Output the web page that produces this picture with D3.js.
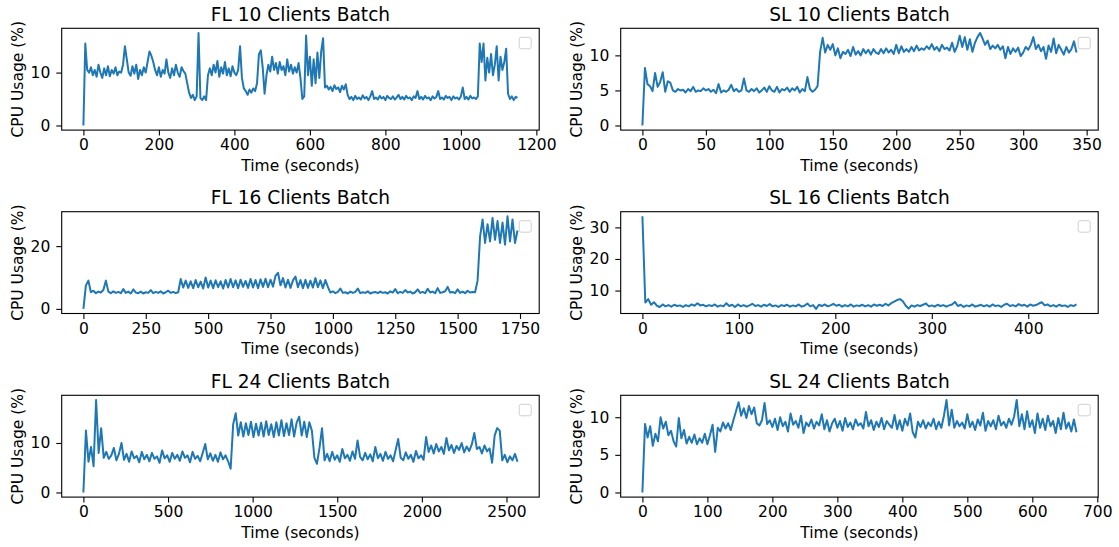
<!DOCTYPE html>
<html>
<head>
<meta charset="utf-8">
<script src="https://cdn.jsdelivr.net/npm/d3@7"></script>
<style>
body { margin: 0; background: #fff; }
text { font-family: "DejaVu Sans", sans-serif; }
</style>
</head>
<body>
<div id="chart"></div>
<script>
// CPU usage (%) per run, one value every `step` seconds

var fl10Step = 5;
var fl10Cpu = [0,15.5,10.5,10,11,9.5,10.5,9.2,11.5,10,9,10.8,9.5,11.2,9.3,10.5,9.8,11,9.5,10.2,
    10,11.5,15,12.5,10,9.4,11.2,9.8,11.5,8.8,10.5,9.5,11,10,12,14,13.2,12,10.5,9.5,
    11,9.2,10.5,9.8,12.5,10,9,10.8,9.5,11.5,10,9.2,11,10.3,9.8,8,6.2,5.2,5.8,4.8,
    5.5,17.5,5.2,4.8,5.5,4.8,9.5,10.8,9.5,11.5,10,12.2,9.2,11,9.8,12,9.5,10.8,9.3,11.2,
    10,9.5,10.5,15,9,7,6.5,5.8,6.8,6.2,7,6.5,8,13.5,14.2,11,6,9.5,11.5,10.2,
    13,10.5,11.8,9.8,12,10.5,11.2,9.5,12.5,10.2,11.5,9.8,11,10,11.8,9,5,5.5,17,9.5,
    13,7.5,12.5,8,13.8,9,14,16.5,7.2,7.5,6.8,7.3,6.5,7.6,6.9,7.2,6.3,7.5,6.8,7.8,
    5.8,5,5.4,4.8,5.6,5,5.3,4.9,5.7,5.1,5.4,4.8,5.5,6.5,5,5.3,4.9,5.6,5.1,5.4,
    4.8,5.6,5.2,5,5.5,4.9,5.3,5.8,5,5.4,4.9,5.6,5.1,5.3,4.8,5.5,5.2,6.5,5,5.4,
    4.9,5.6,5.1,5.3,4.8,5.5,5.1,5.4,6.5,5,5.3,4.9,5.6,5.2,5.4,4.8,5.5,5.1,5.3,4.9,
    5.5,7.2,5,5.4,4.9,5.6,5.1,5.3,5,5.5,15.5,12,15.5,8.5,12.8,10,13.5,9.5,11.5,15,
    8.5,13,10.5,12,14.5,6,5,5.5,4.8,5.4,5.2];

var sl10Step = 2;
var sl10Cpu = [0,8.2,5.9,5.6,4.9,7.5,5.5,6.2,7.6,4.8,6.3,6.1,5,4.8,5.2,5,5.1,4.7,5.2,4.9,
    5.5,4.8,5,4.9,5.3,5,5.2,4.8,5.1,4.6,5.9,4.7,5,4.8,5.1,5.8,4.9,5.2,4.8,5,
    6.7,5,4.8,5.2,4.9,5.3,4.7,5,5.4,4.8,5.6,5,4.8,5.5,4.7,5.2,5,5.4,4.8,5.3,
    5,5.5,4.7,5.2,4.9,6.9,5.2,4.8,5.1,5.6,10.5,12.5,10.4,11.5,10.8,11.6,10,11,9.6,10.5,
    10.2,10.8,9.9,11.2,10.1,10.6,10,10.9,10.3,10.8,10.1,10.9,10.4,10.2,10.9,10.3,11,10.4,10.8,10.2,
    11.5,10.3,11.3,10.5,10.9,10.5,11.2,10.6,11.4,10.7,11,10.8,11.3,10.9,11.6,10.8,11.2,10.6,11.5,10.9,
    11.1,10.7,11.8,10.5,11.3,12.8,11.2,12.6,10.8,12.3,10.5,11.8,12.6,13.2,12.4,11.5,12.1,10.9,11.4,11,
    11.5,10.8,11.3,9.6,11.2,10.2,11,10.5,11.1,9.9,10.4,11.2,10.8,11.5,12.6,10.9,11.5,10.6,11.2,9.5,
    11.4,10.5,12.4,10.3,11.5,10.8,10.1,11.2,10.4,10.9,12,10.4];

var fl16Step = 10;
var fl16Cpu = [0,7.5,9,5.3,5.8,5,5.5,5.2,6,9,5.5,5,5.6,5.1,5.4,5,6.3,5.1,5.5,4.9,
    6.2,5.2,5,5.5,4.9,5.3,5.1,6,5,5.4,5.1,5.6,4.9,5.3,5.8,5.1,5.4,5,5.3,9.5,
    6.8,9,6.7,8.8,6.6,9.2,6.9,8.7,6.5,10,6.8,9,6.6,9.1,6.9,8.8,6.5,9.2,6.8,9.5,
    6.9,9.1,6.6,9.3,7,8.9,6.7,9.5,6.8,9.2,6.6,9.4,7,9.6,6.9,9.3,7.1,10.5,11.5,7.5,
    9.8,6.8,9.3,6.7,9.1,10.3,6.9,9.2,6.6,9.3,6.7,9,6.8,9.8,6.9,9.1,6.6,9.2,7,5.2,
    5.6,5,5.4,6.5,5.1,5.3,4.9,5.5,5.1,5.4,6.5,5,5.3,5.1,5.6,4.9,5.2,5.4,5,5.5,
    5.1,5.3,4.9,5.6,5.2,6.3,5,5.4,5.1,6,5.2,5.5,4.9,5.3,6.2,5.1,5.4,5,6.4,5.2,
    5.5,5,6.6,5.1,5.3,5.6,7,5.2,5.4,5,6.2,5.1,5.5,5,5.8,5.2,5.4,5.3,9,23,
    28.5,21,27,21.5,29,22,28,21,27.5,20.5,29.5,21.5,28.5,21,25];

var sl16Step = 3;
var sl16Cpu = [33.5,6.2,7.3,5.5,6.3,5.2,4.8,5.6,5,5.4,4.9,5.5,5.1,5.3,4.8,5.4,5,5.6,5.2,6,
    5.3,5.5,5,5.4,5.1,5.6,4.9,5.3,5,6,5.1,5.5,4.8,5.6,5,5.4,4.9,5.3,5.8,5.1,
    5.4,4.9,5.5,5.1,5.7,5,5.3,4.8,5.4,5.1,5.5,4.9,5.3,5,5.6,4.9,5.2,5.9,5,5.4,
    4.2,5.5,5.1,5.6,5,5.3,5.8,5.2,5.5,4.9,5.4,5,5.6,4.9,5.3,5.1,5.5,5,5.4,4.9,
    5.6,5.2,5.5,5.1,5.8,5.3,6,6.5,7,7.3,6.6,5.2,4.3,5.3,4.9,5.4,5.1,5.5,5.9,5,
    5.3,4.9,5.5,5.1,5.4,4.9,5.3,5.6,6.4,5.1,5.5,4.8,5.3,5,5.6,4.9,5.2,5.5,5,5.4,
    4.9,5.6,5.1,5.3,4.8,5.5,5.8,5.1,5.4,5,5.7,5.2,5.5,4.9,5.6,5.2,5.4,5.9,6.3,5.3,
    5.6,5,5.4,4.9,5.5,5.1,5.3,4.8,5.4,5.1,5.6];

var fl24Step = 15;
var fl24Cpu = [0,12.5,6.2,9.2,5.3,18.7,8,13,7,8.2,6.8,7.5,9,6.5,7.8,10,6.6,7.8,6.2,8.3,
    6.9,7.4,6.1,8.2,6.7,7.6,6.3,8,6.8,7.3,6,8.5,6.9,7.5,6.2,8,6.8,7.6,6.4,8.3,
    7,7.5,6.1,8.2,6.8,7.4,6.3,8,9.8,6.7,7.9,6.4,7.6,6.2,8.1,6.7,7.5,6.3,4.8,13.8,
    16,11.5,14.2,11.3,14,11.6,14.3,11.2,13.9,11.5,14.1,11.3,14.4,11.6,13.8,11.2,14.2,11.5,14.6,11.4,
    14,11.6,14.8,11.3,14.1,15.3,11.5,14.3,11.2,14.2,12.5,7,5.8,9,13,6.5,7.8,6.3,8.2,6.6,
    7.5,6.2,8.8,6.9,7.6,6.4,8.3,6.8,10.5,7.2,6.5,8,6.7,7.7,6.3,9.2,6.9,7.8,6.4,8.2,
    6.8,7.5,6.3,8.6,10.8,7,6.5,8.1,6.8,7.6,6.2,8.4,6.9,7.5,6.6,11.2,8.2,9.5,7.9,9.8,
    8.3,9.2,7.8,11,8.5,9.6,8,9.4,8.6,10,8.1,9.3,8.4,9.7,12,8.8,9.2,7.9,9.5,8.3,
    8.9,6,11.5,13,12.5,6.5,7.6,6.1,7.3,6.5,7.8,6.2];

var sl24Step = 4;
var sl24Cpu = [0,9.1,7.3,8.8,6.2,7.8,6.8,10,8.5,9.4,7.6,8.2,6.8,6.1,9.9,7.2,8.3,6.5,7.4,6.6,
    7.7,6.4,7.2,6.6,7.8,6.4,7.6,9,5.4,8.6,8.1,9.3,8.5,9.2,8.3,9.6,10.8,12,10.2,11.2,
    9.9,11.5,10.4,11.3,9.2,8.9,9.6,11.9,9.1,9.6,8.7,9.8,8.3,10,8.8,9.4,8.1,10.5,9,9.5,
    8.6,10.2,7.9,9.3,8.8,9.7,8.5,9.4,8.9,10.4,8.4,9.6,8.1,9.2,9.8,8.6,9.5,8.2,9.9,8.7,
    9.3,8.4,9.7,8.9,9.2,8.5,10.7,8.8,9.6,8.3,9.4,8.7,9.9,8.4,9.5,9,8.6,10.3,8.4,9.6,
    8.2,9.8,8.9,10.5,8,7.3,9.4,8.7,9.6,8.5,9.3,8.8,9.8,8.4,9.4,8.6,10.2,12.3,8.9,11,
    8.6,9.5,8.8,9.3,8.5,10.4,8.7,9.4,8.3,9.7,8.9,10.6,8.2,9.5,8.8,9.6,8.4,10.2,8.9,9.4,
    8.6,9.8,9,10.1,12.3,8.8,10.4,8.4,10.8,8.7,9.6,7.9,10.5,8.6,9.8,8.3,10.2,8.8,9.5,7.9,
    9.9,8.4,10.6,8.5,9.3,8.1,9.7,8];

var titles = ["FL 10 Clients Batch", "SL 10 Clients Batch", "FL 16 Clients Batch",
    "SL 16 Clients Batch", "FL 24 Clients Batch", "SL 24 Clients Batch"];

var fl10XTicks = [0, 200, 400, 600, 800, 1000, 1200], fl10YTicks = [0, 10];
var sl10XTicks = [0, 50, 100, 150, 200, 250, 300, 350], sl10YTicks = [0, 5, 10];
var fl16XTicks = [0, 250, 500, 750, 1000, 1250, 1500, 1750], fl16YTicks = [0, 20];
var sl16XTicks = [0, 100, 200, 300, 400], sl16YTicks = [10, 20, 30];
var fl24XTicks = [0, 500, 1000, 1500, 2000, 2500], fl24YTicks = [0, 10];
var sl24XTicks = [0, 100, 200, 300, 400, 500, 600, 700], sl24YTicks = [0, 5, 10];

// layout
var figWidth = 1119, figHeight = 547;
var colLeft = [61.7, 620.7], plotWidth = 477.5;
var rowTop = [28.3, 211.7, 395.3], plotHeight = 101.8;
var lineColor = "#1f77b4";

var panels = [
    { title: titles[0], values: fl10Cpu, step: fl10Step, xTicks: fl10XTicks, yTicks: fl10YTicks, col: 0, row: 0 },
    { title: titles[1], values: sl10Cpu, step: sl10Step, xTicks: sl10XTicks, yTicks: sl10YTicks, col: 1, row: 0 },
    { title: titles[2], values: fl16Cpu, step: fl16Step, xTicks: fl16XTicks, yTicks: fl16YTicks, col: 0, row: 1 },
    { title: titles[3], values: sl16Cpu, step: sl16Step, xTicks: sl16XTicks, yTicks: sl16YTicks, col: 1, row: 1 },
    { title: titles[4], values: fl24Cpu, step: fl24Step, xTicks: fl24XTicks, yTicks: fl24YTicks, col: 0, row: 2 },
    { title: titles[5], values: sl24Cpu, step: sl24Step, xTicks: sl24XTicks, yTicks: sl24YTicks, col: 1, row: 2 }
];

var svg = d3.select("#chart")
    .append("svg")
    .attr("width", figWidth)
    .attr("height", figHeight);

// matplotlib style 5% margins on both sides
function padded(ext) {
    var m = (ext[1] - ext[0]) * 0.05;
    return [ext[0] - m, ext[1] + m];
}

panels.forEach(function (p, k) {
    var g = svg.append("g")
        .attr("transform", "translate(" + colLeft[p.col] + "," + rowTop[p.row] + ")");

    var pts = p.values.map(function (v, i) { return [i * p.step, v]; });

    var x = d3.scaleLinear()
        .domain(padded(d3.extent(pts, d => d[0])))
        .range([0, plotWidth]);
    var y = d3.scaleLinear()
        .domain(padded(d3.extent(pts, d => d[1])))
        .range([plotHeight, 0]);

    g.append("clipPath")
        .attr("id", "clip" + k)
        .append("rect")
        .attr("width", plotWidth)
        .attr("height", plotHeight);

    g.append("path")
        .datum(pts)
        .attr("clip-path", "url(#clip" + k + ")")
        .attr("fill", "none")
        .attr("stroke", lineColor)
        .attr("stroke-width", 2)
        .attr("stroke-linejoin", "round")
        .attr("d", d3.line()
            .x(d => x(d[0]))
            .y(d => y(d[1])));

    g.append("rect")
        .attr("width", plotWidth)
        .attr("height", plotHeight)
        .attr("fill", "none")
        .attr("stroke", "#000")
        .attr("stroke-width", 1.1);

    var xAxis = g.append("g")
        .attr("transform", "translate(0," + plotHeight + ")")
        .call(d3.axisBottom(x).tickValues(p.xTicks).tickSize(5.4).tickSizeOuter(0).tickPadding(3.6).tickFormat(d3.format("d")));
    var yAxis = g.append("g")
        .call(d3.axisLeft(y).tickValues(p.yTicks).tickSize(5.4).tickSizeOuter(0).tickPadding(6).tickFormat(d3.format("d")));

    [xAxis, yAxis].forEach(function (a) {
        a.select(".domain").remove();
        a.attr("font-family", "DejaVu Sans").attr("font-size", 15.5);
        a.selectAll("line").attr("stroke", "#000").attr("stroke-width", 1.1);
        a.selectAll("text").attr("fill", "#000");
    });

    g.append("text")
        .attr("x", plotWidth / 2)
        .attr("y", -7.6)
        .attr("text-anchor", "middle")
        .attr("font-size", 18.6)
        .attr("fill", "#000")
        .text(p.title);

    g.append("text")
        .attr("x", plotWidth / 2)
        .attr("y", plotHeight + 41)
        .attr("text-anchor", "middle")
        .attr("font-size", 15.5)
        .attr("fill", "#000")
        .text("Time (seconds)");

    g.append("text")
        .attr("transform", "translate(-44," + (plotHeight / 2) + ") rotate(-90)")
        .attr("dy", "0.35em")
        .attr("text-anchor", "middle")
        .attr("font-size", 15.5)
        .attr("fill", "#000")
        .text("CPU Usage (%)");

    // empty legend box (no labelled artists)
    g.append("rect")
        .attr("x", plotWidth - 20)
        .attr("y", 9)
        .attr("width", 12)
        .attr("height", 11.5)
        .attr("rx", 2)
        .attr("fill", "#fff")
        .attr("fill-opacity", 0.8)
        .attr("stroke", "#d0d0d0")
        .attr("stroke-width", 1);
});
</script>
</body>
</html>
